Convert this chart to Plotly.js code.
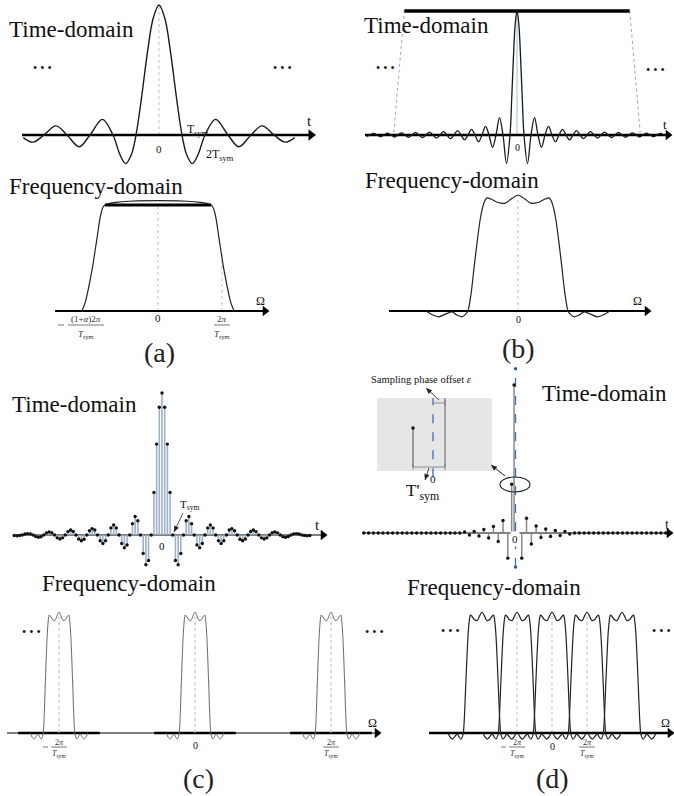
<!DOCTYPE html>
<html><head><meta charset="utf-8">
<script src="https://cdn.plot.ly/plotly-3.0.1.min.js"></script>
<style>html,body{margin:0;padding:0;background:#fff}#chart{width:674px;height:796px}</style>
</head><body><div id="chart"></div>
<script>
// ======================= DATA =======================
// (a) time-domain pulse, t in units of Tsym
const aTimeT = [-5.9,-5.48,-5,-4.48,-4,-3.47,-3,-2.46,-2,-1.7,-1.45,-1.2,-1,-0.75,-0.5,-0.25,0,0.25,0.5,0.75,1,1.2,1.45,1.7,2,2.46,3,3.47,4,4.48,5,5.48,5.9];
const aTimeV = [-0.02,-0.055,0,0.07,0,-0.09,0,0.12,0,-0.15,-0.22,-0.15,0,0.30,0.64,0.90,1,0.90,0.64,0.30,0,-0.15,-0.22,-0.15,0,0.12,0,-0.09,0,0.07,0,-0.055,-0.02];
// (a) frequency-domain (raised-cosine), Omega in units of 2pi/Tsym
const aFreqW = [-1.19,-1.14,-1.03,-0.95,-0.89,-0.83,0.83,0.89,0.95,1.03,1.14,1.19];
const aFreqV = [0,0.075,0.39,0.70,0.92,1,1,0.92,0.70,0.39,0.075,0];
// (b) time-domain pulse (narrow), t in units of zero-crossing spacing
const bTimeT = [-21.5,-21,-20.5,-20,-19.5,-19,-18.5,-18,-17.5,-17,-16.5,-16,-15.5,-15,-14.5,-14,-13.5,-13,-12.5,-12,-11.5,-11,-10.5,-10,-9.5,-9,-8.5,-8,-7.5,-7,-6.5,-6,-5.5,-5,-4.5,-4,-3.5,-3,-2.5,-2,-1.5,-1,-0.75,-0.5,-0.25,0,0.25,0.5,0.75,1,1.5,2,2.5,3,3.5,4,4.5,5,5.5,6,6.5,7,7.5,8,8.5,9,9.5,10,10.5,11,11.5,12,12.5,13,13.5,14,14.5,15,15.5,16,16.5,17,17.5,18,18.5,19,19.5,20,20.5,21,21.5];
const bTimeV = [-0.012,0,0.013,0,-0.014,0,0.015,0,-0.016,0,0.017,0,-0.018,0,0.02,0,-0.021,0,0.023,0,-0.025,0,0.028,0,-0.03,0,0.035,0,-0.04,0,0.045,0,-0.055,0,0.07,0,-0.10,0,0.14,0,-0.23,0,0.30,0.64,0.90,1,0.90,0.64,0.30,0,-0.23,0,0.14,0,-0.10,0,0.07,0,-0.055,0,0.045,0,-0.04,0,0.035,0,-0.03,0,0.028,0,-0.025,0,0.023,0,-0.021,0,0.02,0,-0.018,0,0.017,0,-0.016,0,0.015,0,-0.014,0,0.013,0,-0.012];
// (b) time-domain window outline
const bWinT = [-17.6,-16.1,16.1,17.6];
const bWinV = [0.02,1,1,0.02];
// rippled band shape (Omega in units of band half-width), used in (b),(c),(d)
const bandU = [-1.80,-1.67,-1.55,-1.41,-1.29,-1.20,-1.10,-1.02,-0.98,-0.92,-0.86,-0.80,-0.745,-0.69,-0.65,-0.61,-0.53,-0.39,-0.25,-0.12,0,0.12,0.25,0.39,0.53,0.61,0.65,0.69,0.745,0.80,0.86,0.92,0.98,1.02,1.10,1.20,1.29,1.41,1.55,1.67,1.80];
const bandV = [0,-0.035,-0.05,-0.025,-0.008,-0.035,-0.05,-0.025,0,0.15,0.38,0.60,0.78,0.90,0.95,0.975,0.965,0.935,0.93,0.97,1.0,0.97,0.93,0.935,0.965,0.975,0.95,0.90,0.78,0.60,0.38,0.15,0,-0.025,-0.05,-0.035,-0.008,-0.025,-0.05,-0.035,0];
// (c) time-domain samples, 4 samples per Tsym
const cTimeStart = -13.75, cTimeStep = 0.25;
const cTimeV = [-0.004,-0.006,-0.004,0,0.007,0.01,0.008,0,-0.011,-0.016,-0.012,0,0.015,0.022,0.016,0,-0.02,-0.028,-0.02,0,0.024,0.035,0.025,0,-0.028,-0.04,-0.03,0,0.03,0.045,0.035,0,-0.04,-0.06,-0.04,0,0.05,0.07,0.05,0,-0.06,-0.09,-0.07,0,0.08,0.13,0.10,0,-0.13,-0.21,-0.18,0,0.30,0.64,0.90,
  1.0,
  0.90,0.64,0.30,0,-0.18,-0.21,-0.13,0,0.10,0.13,0.08,0,-0.07,-0.09,-0.06,0,0.05,0.07,0.05,0,-0.04,-0.06,-0.04,0,0.035,0.045,0.03,0,-0.03,-0.04,-0.028,0,0.025,0.035,0.024,0,-0.02,-0.028,-0.02,0,0.016,0.022,0.015,0,-0.012,-0.016,-0.011,0,0.008,0.01,0.007,0,-0.004,-0.006,-0.004];
// (c) spectral replicas: centres in units of 2pi/Tsym, band half-width
const cBandCenters = [-1,0,1];
const cBandHalf = 0.118;
// (d) time-domain samples with sampling phase offset, t in units of T'sym
const dTimeT = [-31.6,-30.6,-29.6,-28.6,-27.6,-26.6,-25.6,-24.6,-23.6,-22.6,-21.6,-20.6,-19.6,-18.6,-17.6,-16.6,-15.6,-14.6,-13.6,-12.6,-11.6,-10.6,-9.6,-8.6,-7.6,-6.6,-5.6,-4.6,-3.6,-2.6,-1.6,-0.8,-0.3,1.3,2.3,3.3,4.3,5.3,6.3,7.3,8.3,9.3,10.3,11.3,12.3,13.3,14.3,15.3,16.3,17.3,18.3,19.3,20.3,21.3,22.3,23.3,24.3,25.3,26.3,27.3,28.3,29.3,30.3,31.3];
const dTimeV = [0,0,0,0,0,0,0,0,0,0,0,0,0,0,0,0,0,0,0,0,0,0.007,-0.014,0.01,-0.02,0.024,-0.034,0.044,-0.057,0.084,-0.17,0.33,1.0,-0.17,0.10,-0.074,0.047,-0.03,0.027,-0.024,0.017,-0.017,0.01,-0.007,0,0,0,0,0,0,0,0,0,0,0,0,0,0,0,0,0,0,0,0];
const dPhaseLine = [-0.23,1.11];
// (d) overlapping spectral replicas
const dBandCenters = [-2,-1,0,1,2];
const dBandHalf = 0.543;
// inset of (d): samples at offset positions
const insetT = [-0.625,0.375];
const insetV = [1,1.77];
// tick labels
const aFreqTicks = {vals:[0], text:['0']};
const cFreqTicks = {vals:[-1,0,1]};
const dFreqTicks = {vals:[-1,0,1]};

// ======================= LAYOUT / DRAWING =======================
const W=674,H=796;
const SER='"Liberation Serif","Times New Roman",serif';
const panels=[
  {key:'aT',box:[0,337,0,170],x0:159,xu:23,y0:135,yu:130},
  {key:'aF',box:[0,337,190,330],x0:158,xu:64,y0:311,yu:106},
  {key:'bT',box:[337,674,0,170],x0:517,xu:7,y0:135,yu:124},
  {key:'bF',box:[337,674,185,330],x0:518,xu:51,y0:311,yu:116},
  {key:'cT',box:[0,337,380,575],x0:162,xu:10.75,y0:535,yu:142},
  {key:'cF',box:[0,400,600,760],x0:195,xu:136,y0:733,yu:121},
  {key:'dT',box:[337,674,360,575],x0:515.5,xu:4.8,y0:533,yu:148},
  {key:'dF',box:[337,674,600,760],x0:552,xu:35,y0:733,yu:121},
  {key:'in',box:[370,500,390,500],x0:433,xu:32,y0:467,yu:39}
];
const layout={width:W,height:H,margin:{l:0,r:0,t:0,b:0},paper_bgcolor:'#fff',plot_bgcolor:'rgba(0,0,0,0)',showlegend:false};
const PN={};
panels.forEach((p,i)=>{
  const n=i===0?'':String(i+1);
  p.xa='x'+n;p.ya='y'+n;PN[p.key]=p;
  const [bx0,bx1,by0,by1]=p.box;
  layout['xaxis'+n]={domain:[bx0/W,bx1/W],range:[(bx0-p.x0)/p.xu,(bx1-p.x0)/p.xu],visible:false,anchor:'y'+n,fixedrange:true};
  layout['yaxis'+n]={domain:[1-by1/H,1-by0/H],range:[(p.y0-by1)/p.yu,(p.y0-by0)/p.yu],visible:false,anchor:'x'+n,fixedrange:true};
});
const px2x=(p,px)=>(px-p.x0)/p.xu;
const traces=[],ann=[],shapes=[];
function line(p,x,y,color,width,extra={}){
  traces.push(Object.assign({type:'scatter',mode:'lines',x,y,xaxis:p.xa,yaxis:p.ya,hoverinfo:'skip',cliponaxis:false,
    line:Object.assign({color,width},extra.line||{})},extra.t||{}));
}
function axisLine(p,pa,pb,width,head){
  line(p,[px2x(p,pa),px2x(p,pb-5)],[0,0],'#000',width);
  traces.push({type:'scatter',mode:'markers',x:[px2x(p,pb-4)],y:[0],xaxis:p.xa,yaxis:p.ya,hoverinfo:'skip',cliponaxis:false,
    marker:{symbol:'triangle-right',size:head,color:'#000'}});
}
function ref(p,x,y1,color,dash){ line(p,[x,x],[0,y1],color||'#aebfd2',1,{line:{dash:dash||'dot'}}); }
function stems(p,T,V,color,width){
  const x=[],y=[];T.forEach((t,i)=>{if(V[i]!==0){x.push(t,t,null);y.push(0,V[i],null);}});
  line(p,x,y,color,width);
}
function dots(p,T,V,size,color){
  traces.push({type:'scatter',mode:'markers',x:T,y:V,xaxis:p.xa,yaxis:p.ya,hoverinfo:'skip',cliponaxis:false,marker:{size,color:color||'#111'}});
}
function txt(x,y,text,size,opts={}){
  ann.push(Object.assign({xref:'paper',yref:'paper',x:x/W,y:1-y/H,text,showarrow:false,
    font:{family:SER,size,color:'#111'},xanchor:'center',yanchor:'middle'},opts));
}
// arrows drawn as a line plus a small triangle head (shapes)
function arrow(tx,ty,sx,sy,w){
  seg(sx,sy,tx,ty,'#222',w||1);
  const dx=tx-sx,dy=ty-sy,L=Math.hypot(dx,dy),ux=dx/L,uy=dy/L,hl=6,hw=2.6;
  const bx=tx-ux*hl,by=ty-uy*hl;
  const pts=[[tx,ty],[bx-uy*hw,by+ux*hw],[bx+uy*hw,by-ux*hw]].map(q=>(q[0]/W)+','+(1-q[1]/H));
  shapes.push({type:'path',xref:'paper',yref:'paper',path:'M'+pts.join('L')+'Z',fillcolor:'#222',line:{width:0}});
}
function seg(x0,y0,x1,y1,color,w,dash){
  shapes.push({type:'line',xref:'paper',yref:'paper',x0:x0/W,y0:1-y0/H,x1:x1/W,y1:1-y1/H,line:{color:color||'#222',width:w||1,dash:dash||'solid'}});
}
function frac(p,val,numY,lineY,denY,halfw,num,minus,size){
  const cx=p.x0+val*p.xu;
  txt(cx,numY,num,size,{font:{family:SER,size,color:'#333'}});
  seg(cx-halfw,lineY,cx+halfw,lineY,'#555',0.8);
  txt(cx,denY,'<i>T</i><sub>sym</sub>',size,{font:{family:SER,size,color:'#333'}});
  if(minus) seg(cx-halfw-8,lineY,cx-halfw-3,lineY,'#555',0.8);
}
const DOTS='• • •';

// ---- (a) time ----
{const p=PN.aT;
 ref(p,0,1,'#b8c2cc');
 axisLine(p,22,315,2.5,10);
 line(p,aTimeT,aTimeV,'#1a1a1a',1.4,{line:{shape:'spline',smoothing:1}});
 txt(7,30,'Time-domain',23,{xanchor:'left'});
 txt(42,68,DOTS,12); txt(282,68,DOTS,12);
 txt(159,149,'0',11);
 txt(p.x0+1*p.xu+3,130,'T<sub>sym</sub>',12,{xanchor:'left'});
 txt(p.x0+2*p.xu-1,155,'2T<sub>sym</sub>',12,{xanchor:'left'});
 txt(309,121,'t',15);
}
// ---- (a) freq ----
{const p=PN.aF;
 ref(p,0,1,'#b8c2cc'); ref(p,1,0.55,'#b8c2cc');
 axisLine(p,55,269,2,9);
 line(p,aFreqW,aFreqV,'#222',1.2,{line:{shape:'spline',smoothing:0.8}});
 const top=aFreqW.filter((w,i)=>aFreqV[i]===1);
 line(p,top,top.map(()=>1),'#000',3);
 txt(7,186,'Frequency-domain',23,{xanchor:'left'});
 txt(260,301,'Ω',12);
 txt(158,318,aFreqTicks.text[0],11);
 const cxl=86;
 txt(cxl,319,'(1+<i>α</i>)2<i>π</i>',9,{font:{family:SER,size:9,color:'#333'}});
 seg(68,325,104,325,'#555',0.8); seg(58,325,64,325,'#555',0.8);
 txt(cxl,334,'<i>T</i><sub>sym</sub>',9,{font:{family:SER,size:9,color:'#333'}});
 frac(p,1,319,325,334,8,'2<i>π</i>',false,9);
 txt(159,352,'(a)',28,{font:{family:SER,size:28,color:'#222'}});
}
// ---- (b) time ----
{const p=PN.bT;
 ref(p,0,1,'#9fc0dd','solid');
 line(p,[bWinT[0],bWinT[1],null,bWinT[2],bWinT[3]],[bWinV[0],bWinV[1],null,bWinV[2],bWinV[3]],'#8fa8cc',1,{line:{dash:'dot'}});
 line(p,bWinT.slice(1,3),bWinV.slice(1,3),'#000',3.5);
 axisLine(p,365,672,2.5,9);
 line(p,bTimeT,bTimeV,'#1a1a1a',1.3,{line:{shape:'spline',smoothing:1}});
 txt(362,26,'Time-domain',23,{xanchor:'left'});
 txt(385,68,DOTS,12); txt(655,70,DOTS,12);
 txt(517,147,'0',10);
 txt(665,125,'t',13);
}
// ---- (b) freq ----
{const p=PN.bF;
 ref(p,0,1,'#b8c2cc');
 axisLine(p,389,651,2,9);
 line(p,bandU,bandV,'#222',1.2,{line:{shape:'spline',smoothing:0.7}});
 txt(363,181,'Frequency-domain',23,{xanchor:'left'});
 txt(637,301,'Ω',12);
 txt(518,319,'0',10);
 txt(518,348,'(b)',28,{font:{family:SER,size:28,color:'#222'}});
}
// ---- (c) time ----
{const p=PN.cT;
 const cTimeT=cTimeV.map((_,i)=>cTimeStart+cTimeStep*i);
 axisLine(p,15,327,1.2,9);
 stems(p,cTimeT,cTimeV,'#9bb2ca',1.6);
 dots(p,cTimeT,cTimeV,3.4);
 txt(10,404,'Time-domain',23,{xanchor:'left'});
 txt(162,546,'0',11,{bgcolor:'#fff'});
 txt(317,525,'t',15);
 txt(190,505,'T<sub>sym</sub>',11,{xanchor:'center'});
 arrow(174,532,183,513,0.8);
}
// ---- (c) freq ----
{const p=PN.cF;
 axisLine(p,7,381,1.2,9);
 cBandCenters.forEach(c=>{
   line(p,[c-0.3,c+0.3],[0,0],'#000',2.5);
   ref(p,c,1,'#a9bfd6');
   line(p,bandU.map(u=>c+u*cBandHalf),bandV,'#666',1,{line:{shape:'spline',smoothing:0.7}});
 });
 txt(40,583,'Frequency-domain',23,{xanchor:'left'});
 txt(31,632,DOTS,12); txt(375,632,DOTS,12);
 txt(372,723,'Ω',12);
 frac(p,cFreqTicks.vals[0],742,747,754,8,'2<i>π</i>',true,8);
 txt(p.x0,745,'0',10);
 frac(p,cFreqTicks.vals[2],742,747,754,8,'2<i>π</i>',false,8);
 txt(198,778,'(c)',28,{font:{family:SER,size:28,color:'#222'}});
}
// ---- (d) time ----
{const p=PN.dT;
 axisLine(p,362,673,1.2,9);
 line(p,[0,0],dPhaseLine,'#3b6fc4',1.3,{line:{dash:'dash'}});
 dots(p,[0,0],dPhaseLine,3.5,'#2a5db5');
 stems(p,dTimeT,dTimeV,'#8a8a8a',1.5);
 dots(p,dTimeT,dTimeV,3.4);
 txt(540,393,'Time-domain',23,{xanchor:'left'});
 txt(515,539,'0',11,{bgcolor:'#fff'});
 txt(667,524,'t',14);
 shapes.push({type:'circle',xref:'paper',yref:'paper',x0:500/W,x1:530/W,y0:1-477/H,y1:1-492/H,line:{color:'#222',width:1.1}});
 arrow(491,465,505,476,1);
}
// ---- inset ----
{const p=PN.in;
 shapes.push({type:'rect',xref:'paper',yref:'paper',x0:377/W,x1:492/W,y0:1-398/H,y1:1-471/H,fillcolor:'#e6e6e6',line:{width:0},layer:'below'});
 line(p,[insetT[0],insetT[0]],[0,insetV[0]],'#777',1.4);
 dots(p,[insetT[0]],[insetV[0]],3.5);
 line(p,[insetT[1],insetT[1]],[0,insetV[1]],'#777',1.2);
 line(p,[0,0],[-0.26,insetV[1]],'#3b6fc4',1.3,{line:{dash:'dash'}});
 seg(413,467,445,467,'#777',0.8); seg(413,464,413,470,'#777',0.8); seg(445,464,445,470,'#777',0.8);
 seg(433,403,445,403,'#777',0.8); seg(445,400,445,406,'#777',0.8);
 txt(433,479,'0',11);
 txt(423,492,'T\'<sub>sym</sub>',17);
 arrow(425,480,429,468,0.8);
 txt(421,380,'Sampling phase offset <i>ε</i>',10.5);
 arrow(426,388,439,400,0.8);
}
// ---- (d) freq ----
{const p=PN.dF;
 dFreqTicks.vals.forEach(v=>ref(p,v,1,'#a9c4dd'));
 axisLine(p,429,674,2.5,9);
 dBandCenters.forEach(c=>{
   line(p,bandU.map(u=>c+u*dBandHalf),bandV,'#222',1.2,{line:{shape:'spline',smoothing:0.7}});
 });
 txt(405,587,'Frequency-domain',23,{xanchor:'left'});
 txt(450,631,DOTS,12); txt(661,631,DOTS,12);
 txt(665,723,'Ω',12);
 frac(p,dFreqTicks.vals[0],742,747,754,8,'2<i>π</i>',true,8);
 txt(p.x0,746,'0',10);
 frac(p,dFreqTicks.vals[2],742,747,754,8,'2<i>π</i>',false,8);
 txt(552,778,'(d)',28,{font:{family:SER,size:28,color:'#222'}});
}
layout.annotations=ann;layout.shapes=shapes;
Plotly.newPlot('chart',traces,layout,{staticPlot:true,displayModeBar:false});
</script></body></html>
